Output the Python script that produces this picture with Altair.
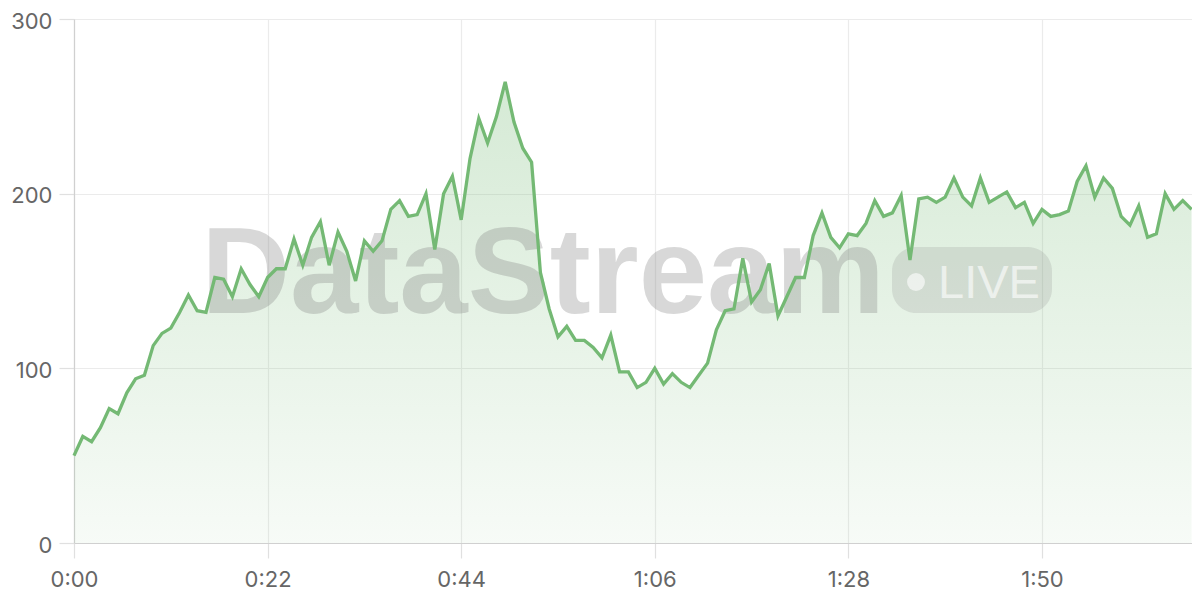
import altair as alt
import pandas as pd

# seconds since start (one sample per second)
seconds = list(range(128))
values = [
    50, 61, 58, 66, 77, 74, 86, 94, 96, 113,
    120, 123, 132, 142, 133, 132, 152, 151, 141, 157,
    148, 141, 152, 157, 157, 174, 159, 175, 184, 159,
    178, 167, 150, 173, 167, 173, 191, 196, 187, 188,
    200, 168, 200, 210, 185, 220, 243, 229, 244, 264,
    241, 226, 218, 155, 134, 118, 124, 116, 116, 112,
    106, 119, 98, 98, 89, 92, 100, 91, 97, 92,
    89, 96, 103, 122, 133, 134, 163, 138, 145, 160,
    130, 141, 152, 152, 176, 189, 175, 169, 177, 176,
    183, 196, 187, 189, 199, 162, 197, 198, 195, 198,
    209, 198, 193, 209, 195, 198, 201, 192, 195, 183,
    191, 187, 188, 190, 207, 216, 198, 209, 203, 187,
    182, 193, 175, 177, 200, 191, 196, 191,
]
x_ticks = [0, 22, 44, 66, 88, 110]
y_ticks = [0, 100, 200, 300]
watermark_text = ["DataStream"]
badge_text = ["LIVE"]

df = pd.DataFrame({"t": seconds, "v": values})

GREEN = "#74b974"
FONT = "Inter"

x_enc = alt.X(
    "t:Q",
    scale=alt.Scale(domain=[0, 127.05], nice=False, zero=True),
    axis=alt.Axis(
        values=x_ticks,
        title=None,
        labelExpr="floor(datum.value/60) + ':' + (datum.value % 60 < 10 ? '0' : '') + (datum.value % 60)",
        labelFlush=False,
        grid=True,
    ),
)
y_enc = alt.Y(
    "v:Q",
    scale=alt.Scale(domain=[0, 300], nice=False),
    axis=alt.Axis(values=y_ticks, title=None, grid=True, labelOffset=2),
)

base = alt.Chart(df)

area = base.mark_area(
    line=False,
    color=alt.Gradient(
        gradient="linear",
        x1=1, x2=1, y1=0, y2=1,
        stops=[
            alt.GradientStop(offset=0, color="rgba(116,185,116,0.30)"),
            alt.GradientStop(offset=1, color="rgba(116,185,116,0.06)"),
        ],
    ),
).encode(x=x_enc, y=y_enc)

line = base.mark_line(color=GREEN, strokeWidth=3.3, strokeJoin="miter").encode(x="t:Q", y="v:Q")

wm_df = pd.DataFrame({"label": watermark_text})
wm = alt.Chart(wm_df).mark_text(
    font="Liberation Sans", fontWeight="bold", fontSize=123,
    color="#808080", opacity=0.3, align="center", baseline="alphabetic",
).encode(text="label:N", x=alt.value(469), y=alt.value(294))

badge = alt.Chart(wm_df).mark_rect(
    color="#888888", opacity=0.2, cornerRadius=24,
).encode(x=alt.value(818), x2=alt.value(978), y=alt.value(228), y2=alt.value(294))

dot = alt.Chart(wm_df).mark_point(
    shape="circle", filled=True, size=320, color="#ffffff", opacity=0.6,
).encode(x=alt.value(842), y=alt.value(263))

live_df = pd.DataFrame({"label": badge_text})
live = alt.Chart(live_df).mark_text(
    font="Liberation Sans", fontSize=47, color="#ffffff", opacity=0.6,
    align="left", baseline="alphabetic",
).encode(text="label:N", x=alt.value(864), y=alt.value(279))

chart = (
    alt.layer(area, wm, badge, dot, live, line)
    .properties(
        width=1118,
        height=524,
        autosize=alt.AutoSizeParams(type="none"),
        padding={"left": 66, "top": 11, "right": 0, "bottom": 49},
    )
    .configure_view(stroke=None)
    .configure_axis(
        labelFont=FONT,
        labelFontSize=22,
        labelColor="#666666",
        gridColor="#ebebeb",
        gridWidth=1.2,
        domainColor="#d0d0d0",
        domainWidth=1.2,
        tickColor="#e0e0e0",
        tickSize=15,
        tickWidth=1.2,
    )
    .configure_axisX(labelPadding=11)
    .configure_axisY(labelPadding=7)
)

chart.save("out.html", embed_options={"renderer": "svg", "actions": False})
